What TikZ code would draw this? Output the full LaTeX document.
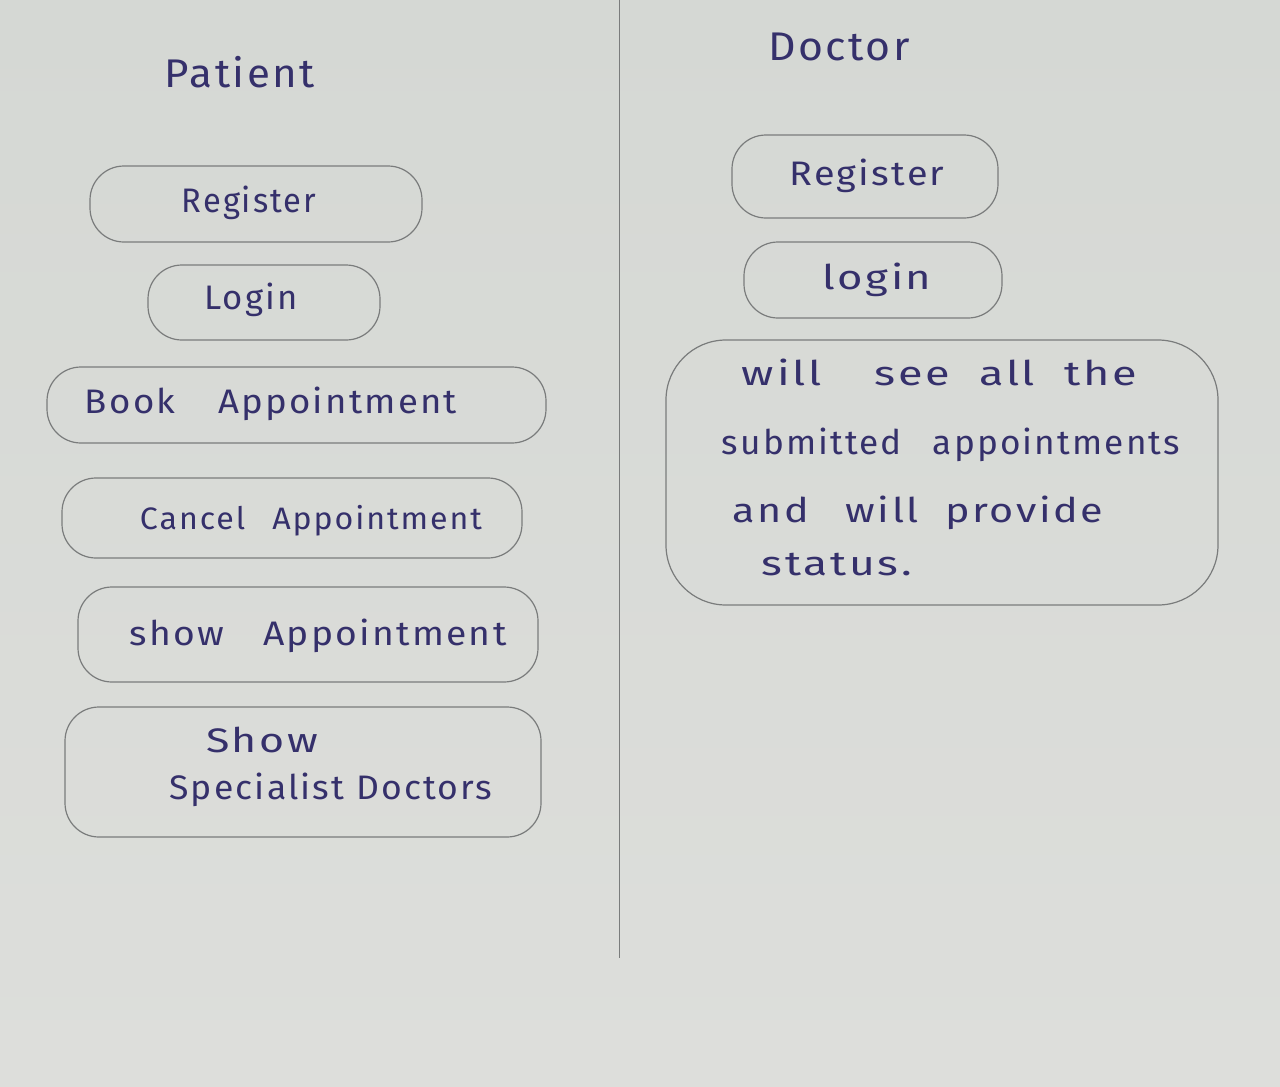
\documentclass[tikz,border=0pt]{standalone}
\usepackage{fontspec}
\usepackage{graphicx}
\newfontfamily\hand[LetterSpace=6]{Fira Sans}
\definecolor{paper}{HTML}{D5D8D4}
\definecolor{paperlow}{HTML}{DDDEDB}
\definecolor{linegrey}{HTML}{7A7C7C}
\definecolor{inkblue}{HTML}{35306B}
% set a text to a given width, keeping its height
\newcommand{\wideto}[2]{\resizebox{#1}{\height}{#2}}
\tikzset{
  pill/.style={draw=linegrey, line width=1.2pt, rounded corners=34pt, inner sep=0pt},
  ink/.style={text=inkblue, inner sep=0pt, font=\hand\fontsize{34}{40}\selectfont},
  smallink/.style={ink, font=\hand\fontsize{31}{36}\selectfont},
  head/.style={ink, font=\hand\fontsize{40}{46}\selectfont},
}
\begin{document}
\begin{tikzpicture}[x=1pt,y=-1pt]
  % paper sheet
  \useasboundingbox (0,0) rectangle (1280,1087);
  \shade[top color=paper, bottom color=paperlow] (0,0) rectangle (1280,1087);

  % column divider
  \coordinate (divtop) at (619,0);
  \coordinate (divbot) at (619,958);
  \draw[linegrey, line width=1pt] (divtop) -- (divbot);

  % headings
  \node[head] (patient) at (240,72) {\wideto{150pt}{Patient}};
  \node[head] (doctor) at (839,47) {\wideto{142pt}{Doctor}};

  % patient column
  \node[pill, minimum width=332pt, minimum height=76pt] (preg) at (256,204) {};
  \node[ink] (pregt) at (249,203) {\wideto{134pt}{Register}};

  \node[pill, minimum width=232pt, minimum height=75pt] (plog) at (264,302.5) {};
  \node[ink] (plogt) at (251,300) {\wideto{93pt}{Login}};

  \node[pill, minimum width=499pt, minimum height=76pt] (pbook) at (296.5,405) {};
  \node[ink] (pbookt) at (271,404) {\wideto{372pt}{Book\hspace{40pt}Appointment}};

  \node[pill, minimum width=460pt, minimum height=80pt] (pcancel) at (292,518) {};
  \node[smallink] (pcancelt) at (311,521) {\wideto{342pt}{Cancel\hspace{26pt}Appointment}};

  \node[pill, minimum width=460pt, minimum height=95pt] (pshow) at (308,634.5) {};
  \node[ink] (pshowt) at (318,636) {\wideto{377pt}{show\hspace{36pt}Appointment}};

  \node[pill, minimum width=476pt, minimum height=130pt] (pspec) at (303,772) {};
  \node[ink] (pspect1) at (262,740) {\wideto{112pt}{Show}};
  \node[ink] (pspect2) at (331,790) {\wideto{323pt}{Specialist Doctors}};

  % doctor column
  \node[pill, minimum width=266pt, minimum height=83pt] (dreg) at (865,176.5) {};
  \node[ink] (dregt) at (867,176) {\wideto{155pt}{Register}};

  \node[pill, minimum width=258pt, minimum height=76pt] (dlog) at (873,280) {};
  \node[ink] (dlogt) at (877,280) {\wideto{109pt}{login}};

  \node[pill, rounded corners=60pt, minimum width=552pt, minimum height=265pt] (dsee) at (942,472.5) {};
  \node[ink] (dsee1) at (939.5,372) {\wideto{395pt}{will\hspace{40pt}see\hspace{22pt}all\hspace{22pt}the}};
  \node[ink] (dsee2) at (951,445) {\wideto{458pt}{submitted\hspace{30pt}appointments}};
  \node[ink] (dsee3) at (918,513) {\wideto{370pt}{and\hspace{30pt}will\hspace{22pt}provide}};
  \node[ink] (dsee4) at (837,565) {\wideto{150pt}{status.}};
\end{tikzpicture}
\end{document}
